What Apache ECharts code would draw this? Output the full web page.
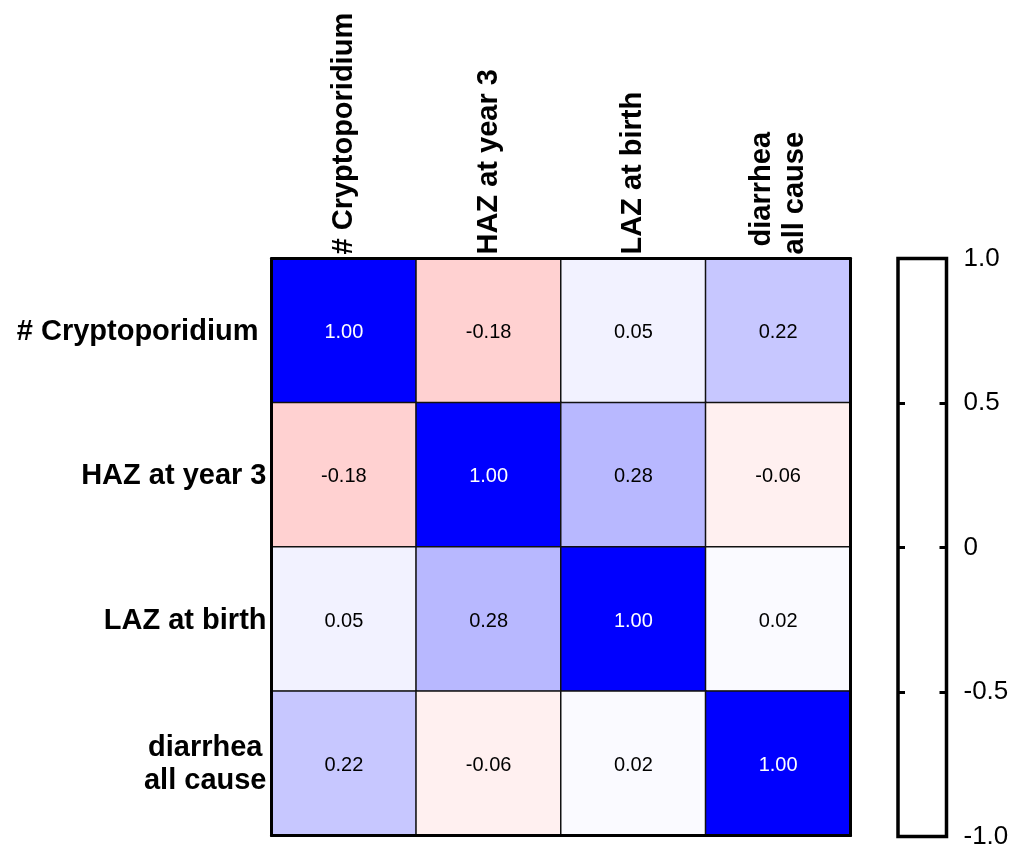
<!DOCTYPE html>
<html>
<head>
<meta charset="utf-8">
<script src="https://cdn.jsdelivr.net/npm/echarts@6/dist/echarts.min.js"></script>
<style>
  html, body { margin: 0; padding: 0; background: #fff; }
  #chart { width: 1019px; height: 850px; }
</style>
</head>
<body>
<div id="chart"></div>
<script>
// Variable names: column headers (left to right) and row headers (top to bottom)
const colLabels = ['# Cryptoporidium', 'HAZ at year 3', 'LAZ at birth', 'diarrhea\nall cause'];
const rowLabels = ['# Cryptoporidium ', 'HAZ at year 3', 'LAZ at birth', 'diarrhea\nall cause'];

// Pearson r, one array per row
const rowCrypto   = [1.00, -0.18, 0.05, 0.22];
const rowHAZ      = [-0.18, 1.00, 0.28, -0.06];
const rowLAZ      = [0.05, 0.28, 1.00, 0.02];
const rowDiarrhea = [0.22, -0.06, 0.02, 1.00];

// Colour scale ticks
const scaleTicks = [-1.0, -0.5, 0, 0.5, 1.0];

const matrix = [rowCrypto, rowHAZ, rowLAZ, rowDiarrhea];
const cells = [];
matrix.forEach((row, r) => {
  row.forEach((v, c) => {
    cells.push({
      value: [c, r, v],
      label: { color: v > 0.6 ? '#ffffff' : '#000000' }
    });
  });
});

const FONT = '"Liberation Sans", Arial, sans-serif';
const frameLine = { show: true, lineStyle: { color: '#000', width: 3 } };
const labelFont = { fontSize: 29, fontWeight: 'bold', color: '#000', fontFamily: FONT, lineHeight: 33 };

// wrap every line of a multi-line label in one rich style so lines align per token
const wrapLines = key => v => v.split('\n').map(s => '{' + key + '|' + s + '}').join('\n');

const chart = echarts.init(document.getElementById('chart'), null, { renderer: 'canvas' });
chart.setOption({
  backgroundColor: '#ffffff',
  animation: false,
  grid: [
    { left: 271.5, top: 258.5, width: 579, height: 577 },
    { left: 898, top: 258.5, width: 48.5, height: 578,
      show: true, backgroundColor: '#ffffff', borderColor: '#000', borderWidth: 3.5 }
  ],
  visualMap: {
    show: false,
    type: 'continuous',
    min: scaleTicks[0],
    max: scaleTicks[scaleTicks.length - 1],
    dimension: 2,
    seriesIndex: 0,
    inRange: { color: ['#ff0000', '#ffffff', '#0000ff'] }
  },
  xAxis: [
    {
      type: 'category', gridIndex: 0, position: 'top', data: colLabels, z: 10,
      axisLine: frameLine, axisTick: { show: false }, splitLine: { show: false },
      axisLabel: Object.assign({
        rotate: -90, margin: 4,
        formatter: wrapLines('r'),
        rich: { r: Object.assign({ align: 'right' }, labelFont) }
      }, labelFont)
    },
    {
      type: 'category', gridIndex: 0, position: 'bottom', data: colLabels, z: 10,
      axisLine: frameLine, axisTick: { show: false }, axisLabel: { show: false }
    },
    {
      type: 'value', gridIndex: 1, show: false, min: 0, max: 1
    }
  ],
  yAxis: [
    {
      type: 'category', gridIndex: 0, position: 'left', data: rowLabels, inverse: true, z: 10,
      axisLine: frameLine, axisTick: { show: false }, splitLine: { show: false },
      axisLabel: Object.assign({
        margin: 5, align: 'right',
        formatter: wrapLines('c'),
        rich: { c: Object.assign({ align: 'center', padding: [3, 0, 0, 0] }, labelFont) }
      }, labelFont)
    },
    {
      type: 'category', gridIndex: 0, position: 'right', data: rowLabels, inverse: true, z: 10,
      axisLine: frameLine, axisTick: { show: false }, axisLabel: { show: false }
    },
    {
      type: 'value', gridIndex: 1, position: 'left',
      min: -1, max: 1, interval: 0.5,
      axisLine: { show: false }, splitLine: { show: false },
      axisTick: { show: true, inside: true, length: 7, lineStyle: { color: '#000', width: 3 } },
      axisLabel: { show: false }
    },
    {
      type: 'value', gridIndex: 1, position: 'right',
      min: -1, max: 1, interval: 0.5,
      axisLine: { show: false }, splitLine: { show: false },
      axisTick: { show: true, inside: true, length: 7, lineStyle: { color: '#000', width: 3 } },
      axisLabel: {
        margin: 17, fontSize: 26, color: '#000', fontFamily: FONT,
        formatter: v => (v === 0 ? '0' : v.toFixed(1))
      }
    }
  ],
  series: [
    {
      type: 'heatmap',
      xAxisIndex: 0,
      yAxisIndex: 0,
      data: cells,
      itemStyle: { borderColor: '#111', borderWidth: 1.5 },
      label: {
        show: true, fontSize: 20, fontFamily: FONT, offset: [0, 2],
        formatter: p => p.value[2].toFixed(2)
      },
      emphasis: { disabled: true }
    }
  ]
});
</script>
</body>
</html>
